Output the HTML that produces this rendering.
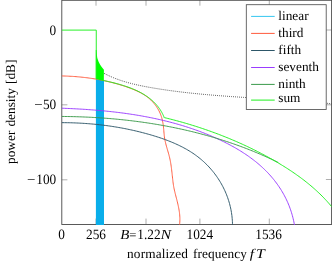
<!DOCTYPE html>
<html><head><meta charset="utf-8">
<style>
html,body{margin:0;padding:0;background:#fff;}
body{width:332px;height:266px;overflow:hidden;font-family:"Liberation Serif",serif;}
svg{display:block;}
text{font-family:"Liberation Serif",serif;font-size:13.3px;fill:#000;text-rendering:geometricPrecision;}
.i{font-style:italic;}
.g{stroke-width:1.2;}
.c{fill:none;stroke-width:0.95;stroke-linejoin:round;stroke-linecap:butt;}
</style></head><body>
<svg width="332" height="266" viewBox="0 0 332 266">
<rect x="0" y="0" width="332" height="266" fill="#fff"/>
<defs><clipPath id="cp"><rect x="61.8" y="0" width="269.8" height="224.9"/></clipPath></defs>
<g stroke="#9a9a9a" stroke-width="0.8" fill="none">
<path d="M96 224.5V218.6M146 224.5V218.6M199.9 224.5V218.6M269.3 224.5V218.6"/>
<path d="M96 0V5.7M146 0V5.7M199.9 0V5.7M269.3 0V5.7"/>
<path d="M61.8 104.8H67.4M61.8 179.8H67.4"/>
<path d="M331.6 30H325.9M331.6 104.8H325.9M331.6 179.5H325.9"/>
</g>
<rect x="61.8" y="0.3" width="269.8" height="224.2" fill="none" stroke="#484848" stroke-width="0.9"/>
<g clip-path="url(#cp)">
<polygon points="95.9,78.9 104.0,80.7 104.0,225 95.9,225" fill="#0aaeea"/>
<path class="c" stroke="#333" stroke-width="0.7" stroke-dasharray="0.8 1.2" d="M104.03 73.32 L105.38 74.02 L106.75 74.71 L108.12 75.37 L109.49 76.01 L110.88 76.63 L112.27 77.22 L113.67 77.80 L115.07 78.36 L116.48 78.90 L117.90 79.42 L119.32 79.93 L120.75 80.42 L122.18 80.89 L123.62 81.34 L125.06 81.78 L126.51 82.21 L127.96 82.62 L129.42 83.02 L130.88 83.40 L132.34 83.77 L133.81 84.13 L135.28 84.48 L136.76 84.82 L138.24 85.14 L139.72 85.46 L141.20 85.77 L142.69 86.07 L144.17 86.36 L145.66 86.65 L147.15 86.92 L148.65 87.20 L150.14 87.46 L151.63 87.72 L153.13 87.98 L154.63 88.23 L156.12 88.47 L157.62 88.72 L159.12 88.95 L160.62 89.19 L162.12 89.42 L163.62 89.64 L165.12 89.87 L166.62 90.08 L168.12 90.30 L169.62 90.51 L171.13 90.71 L172.63 90.92 L174.14 91.12 L175.64 91.31 L177.15 91.50 L178.65 91.69 L180.16 91.88 L181.67 92.06 L183.17 92.24 L184.68 92.41 L186.19 92.58 L187.70 92.75 L189.21 92.92 L190.72 93.08 L192.23 93.24 L193.74 93.40 L195.25 93.55 L196.76 93.71 L198.27 93.85 L199.78 94.00 L201.30 94.14 L202.81 94.29 L204.32 94.43 L205.84 94.56 L207.35 94.70 L208.86 94.83 L210.38 94.96 L211.89 95.09 L213.41 95.21 L214.92 95.34 L216.44 95.46 L217.96 95.58 L219.47 95.70 L220.99 95.81 L222.50 95.93 L224.02 96.04 L225.54 96.15 L227.05 96.26 L228.57 96.37 L230.09 96.48 L231.61 96.58 L233.12 96.69 L234.64 96.79 L236.16 96.89 L237.68 96.99 L239.19 97.10 L240.71 97.19 L242.23 97.29 L243.75 97.39 L245.27 97.49 L246.78 97.58 L248.30 97.68 L249.82 97.77 L251.34 97.87 L252.86 97.96 L254.38 98.06 L255.89 98.15 L257.41 98.24 L258.93 98.33 L260.45 98.43 L261.96 98.52 L263.48 98.61 L265.00 98.70 L266.52 98.80 L268.03 98.89 L269.55 98.98 L271.07 99.08 L272.59 99.17 L274.10 99.26 L275.62 99.36 L277.13 99.45 L278.65 99.55 L280.17 99.64 L281.68 99.74 L283.20 99.84 L284.71 99.94 L286.23 100.04 L287.74 100.14 L289.26 100.24 L290.77 100.34 L292.28 100.44 L293.80 100.55 L295.31 100.65 L296.82 100.76 L298.33 100.87 L299.85 100.98 L301.36 101.09 L302.87 101.21 L304.38 101.32 L305.89 101.44 L307.40 101.55 L308.91 101.67 L310.42 101.80 L311.93 101.92 L313.43 102.05 L314.94 102.17 L316.45 102.30 L317.95 102.44 L319.46 102.57 L320.97 102.71 L322.47 102.85 L323.97 102.99 L325.48 103.13 L326.98 103.28 L328.48 103.43 L329.99 103.58 L331.49 103.73"/>
<path class="c" stroke="#ff5a3c" d="M61.48 75.93 L62.70 75.96 L63.91 76.00 L65.13 76.04 L66.34 76.08 L67.56 76.13 L68.77 76.19 L69.98 76.25 L71.20 76.32 L72.41 76.39 L73.62 76.47 L74.83 76.56 L76.03 76.65 L77.24 76.75 L78.45 76.85 L79.65 76.96 L80.86 77.08 L82.06 77.20 L83.26 77.33 L84.46 77.47 L85.66 77.61 L86.86 77.76 L88.06 77.92 L89.25 78.08 L90.45 78.25 L91.64 78.42 L92.83 78.60 L94.03 78.79 L95.22 78.99 L96.41 79.19 L97.59 79.40 L98.78 79.61 L99.97 79.84 L101.15 80.07 L102.33 80.30 L103.52 80.55 L104.70 80.80 L105.88 81.06 L107.05 81.32 L108.23 81.60 L109.41 81.88 L110.58 82.16 L111.75 82.46 L112.92 82.76 L114.09 83.07 L115.26 83.39 L116.43 83.71 L117.60 84.05 L118.76 84.39 L119.92 84.73 L121.08 85.09 L122.24 85.45 L123.40 85.83 L124.56 86.21 L125.72 86.59 L126.87 86.99 L128.02 87.39 L129.17 87.81 L130.32 88.23 L131.46 88.66 L132.60 89.11 L133.73 89.57 L134.85 90.04 L135.97 90.52 L137.08 91.03 L138.17 91.55 L139.26 92.08 L140.33 92.64 L141.39 93.21 L142.44 93.81 L143.47 94.42 L144.49 95.06 L145.49 95.72 L146.47 96.41 L147.43 97.12 L148.37 97.86 L149.30 98.63 L150.20 99.42 L151.08 100.24 L151.93 101.09 L152.77 101.97 L153.57 102.87 L154.35 103.79 L155.10 104.74 L155.83 105.71 L156.52 106.71 L157.19 107.72 L157.83 108.76 L158.43 109.81 L159.00 110.88 L159.54 111.97 L160.04 113.07 L160.50 114.19 L160.93 115.32 L161.33 116.47 L161.69 117.62 L162.01 118.79 L162.30 119.97 L162.57 121.15 L162.80 122.34 L163.01 123.54 L163.18 124.74 L163.34 125.94 L163.48 127.15 L163.60 128.35 L163.71 129.56 L163.82 130.77 L163.92 131.98 L164.03 133.18 L164.15 134.39 L164.28 135.59 L164.42 136.79 L164.59 137.98 L164.78 139.17 L165.00 140.35 L165.25 141.53 L165.52 142.70 L165.81 143.87 L166.11 145.04 L166.43 146.20 L166.76 147.37 L167.10 148.53 L167.44 149.69 L167.78 150.85 L168.12 152.01 L168.45 153.17 L168.78 154.33 L169.09 155.50 L169.39 156.67 L169.67 157.85 L169.93 159.03 L170.17 160.21 L170.40 161.39 L170.61 162.58 L170.81 163.78 L171.00 164.97 L171.17 166.17 L171.33 167.37 L171.49 168.57 L171.64 169.77 L171.78 170.97 L171.92 172.17 L172.05 173.38 L172.18 174.58 L172.31 175.78 L172.44 176.98 L172.57 178.19 L172.70 179.39 L172.84 180.58 L172.98 181.78 L173.13 182.98 L173.30 184.17 L173.48 185.36 L173.68 186.54 L173.90 187.72 L174.13 188.90 L174.39 190.08 L174.66 191.25 L174.94 192.42 L175.23 193.59 L175.52 194.77 L175.82 195.94 L176.13 197.11 L176.43 198.28 L176.73 199.45 L177.03 200.63 L177.32 201.80 L177.60 202.98 L177.88 204.15 L178.15 205.33 L178.40 206.52 L178.64 207.70 L178.87 208.89 L179.07 210.08 L179.26 211.27 L179.43 212.46 L179.57 213.66 L179.69 214.86 L179.79 216.06 L179.85 217.27 L179.89 218.48 L179.89 219.70 L179.86 220.92 L179.80 222.15 L179.70 223.38 L179.56 224.61"/>
<path class="c" stroke="#2d5668" d="M61.49 122.65 L63.01 122.66 L64.54 122.67 L66.06 122.69 L67.59 122.71 L69.11 122.74 L70.63 122.78 L72.15 122.82 L73.68 122.87 L75.19 122.93 L76.71 122.99 L78.23 123.06 L79.75 123.13 L81.26 123.22 L82.78 123.31 L84.29 123.40 L85.80 123.50 L87.31 123.61 L88.82 123.73 L90.33 123.85 L91.84 123.98 L93.35 124.12 L94.85 124.26 L96.36 124.41 L97.86 124.56 L99.36 124.73 L100.87 124.90 L102.37 125.08 L103.87 125.26 L105.36 125.45 L106.86 125.65 L108.36 125.86 L109.85 126.07 L111.35 126.29 L112.84 126.52 L114.33 126.75 L115.82 126.99 L117.31 127.24 L118.80 127.50 L120.29 127.76 L121.78 128.03 L123.26 128.31 L124.75 128.60 L126.23 128.89 L127.71 129.19 L129.19 129.50 L130.67 129.82 L132.15 130.14 L133.63 130.47 L135.11 130.81 L136.58 131.16 L138.05 131.51 L139.53 131.87 L141.00 132.24 L142.47 132.62 L143.94 133.00 L145.41 133.40 L146.88 133.80 L148.34 134.21 L149.81 134.62 L151.27 135.05 L152.73 135.48 L154.19 135.93 L155.65 136.38 L157.11 136.84 L158.56 137.31 L160.01 137.79 L161.46 138.28 L162.90 138.78 L164.34 139.29 L165.77 139.82 L167.20 140.35 L168.62 140.90 L170.04 141.46 L171.45 142.04 L172.86 142.62 L174.26 143.23 L175.65 143.84 L177.03 144.47 L178.41 145.11 L179.78 145.77 L181.14 146.45 L182.50 147.14 L183.84 147.85 L185.17 148.57 L186.50 149.31 L187.81 150.07 L189.11 150.84 L190.40 151.63 L191.67 152.45 L192.94 153.28 L194.19 154.13 L195.42 155.00 L196.64 155.89 L197.84 156.80 L199.03 157.73 L200.20 158.68 L201.36 159.65 L202.50 160.63 L203.62 161.64 L204.72 162.66 L205.81 163.71 L206.88 164.77 L207.93 165.84 L208.97 166.94 L209.98 168.05 L210.98 169.18 L211.96 170.33 L212.92 171.49 L213.86 172.67 L214.78 173.86 L215.68 175.07 L216.56 176.29 L217.42 177.53 L218.26 178.78 L219.07 180.05 L219.87 181.33 L220.64 182.62 L221.40 183.93 L222.13 185.25 L222.83 186.58 L223.52 187.93 L224.18 189.29 L224.82 190.66 L225.44 192.04 L226.03 193.44 L226.60 194.84 L227.14 196.26 L227.66 197.68 L228.15 199.12 L228.62 200.56 L229.07 202.02 L229.49 203.49 L229.88 204.96 L230.24 206.44 L230.58 207.94 L230.90 209.44 L231.18 210.95 L231.44 212.46 L231.67 213.99 L231.88 215.52 L232.05 217.06 L232.20 218.60 L232.32 220.15 L232.41 221.71 L232.47 223.27 L232.50 224.84"/>
<path class="c" stroke="#9a3cff" d="M61.65 108.21 L63.15 108.26 L64.64 108.32 L66.14 108.38 L67.63 108.44 L69.13 108.51 L70.63 108.58 L72.13 108.65 L73.63 108.72 L75.13 108.80 L76.63 108.88 L78.13 108.96 L79.64 109.05 L81.14 109.13 L82.65 109.23 L84.15 109.32 L85.66 109.42 L87.16 109.52 L88.67 109.63 L90.17 109.74 L91.68 109.85 L93.19 109.96 L94.69 110.08 L96.20 110.21 L97.71 110.33 L99.22 110.46 L100.73 110.60 L102.23 110.74 L103.74 110.88 L105.25 111.02 L106.76 111.18 L108.26 111.33 L109.77 111.49 L111.28 111.65 L112.79 111.82 L114.29 111.99 L115.80 112.17 L117.31 112.35 L118.81 112.53 L120.32 112.72 L121.82 112.92 L123.33 113.12 L124.83 113.32 L126.33 113.53 L127.83 113.75 L129.34 113.96 L130.84 114.19 L132.34 114.42 L133.84 114.65 L135.33 114.89 L136.83 115.14 L138.33 115.39 L139.82 115.64 L141.32 115.90 L142.81 116.17 L144.31 116.44 L145.80 116.72 L147.29 117.00 L148.78 117.29 L150.26 117.58 L151.75 117.88 L153.23 118.19 L154.72 118.50 L156.20 118.82 L157.68 119.15 L159.16 119.48 L160.64 119.81 L162.11 120.16 L163.59 120.51 L165.06 120.86 L166.53 121.22 L168.00 121.59 L169.47 121.97 L170.93 122.35 L172.40 122.74 L173.86 123.13 L175.32 123.53 L176.78 123.94 L178.23 124.36 L179.69 124.78 L181.14 125.21 L182.59 125.65 L184.03 126.09 L185.48 126.54 L186.92 127.00 L188.36 127.46 L189.80 127.94 L191.24 128.42 L192.67 128.90 L194.10 129.40 L195.53 129.90 L196.95 130.41 L198.38 130.93 L199.80 131.46 L201.21 131.99 L202.63 132.53 L204.04 133.08 L205.45 133.64 L206.86 134.20 L208.26 134.78 L209.66 135.36 L211.06 135.95 L212.45 136.55 L213.84 137.15 L215.23 137.77 L216.62 138.39 L218.00 139.02 L219.38 139.66 L220.75 140.31 L222.12 140.97 L223.49 141.63 L224.86 142.31 L226.21 143.00 L227.57 143.69 L228.92 144.39 L230.26 145.11 L231.60 145.83 L232.93 146.56 L234.26 147.31 L235.58 148.06 L236.89 148.82 L238.20 149.60 L239.50 150.38 L240.79 151.18 L242.07 151.98 L243.34 152.80 L244.61 153.63 L245.87 154.47 L247.12 155.32 L248.36 156.18 L249.59 157.05 L250.81 157.94 L252.02 158.84 L253.22 159.75 L254.41 160.67 L255.58 161.60 L256.75 162.55 L257.91 163.51 L259.05 164.48 L260.18 165.47 L261.30 166.46 L262.41 167.48 L263.50 168.50 L264.59 169.54 L265.65 170.59 L266.71 171.65 L267.75 172.73 L268.77 173.82 L269.78 174.93 L270.78 176.05 L271.76 177.18 L272.73 178.33 L273.68 179.49 L274.61 180.67 L275.53 181.85 L276.43 183.05 L277.32 184.27 L278.18 185.49 L279.03 186.73 L279.87 187.99 L280.68 189.25 L281.48 190.53 L282.26 191.83 L283.02 193.13 L283.76 194.45 L284.48 195.78 L285.18 197.13 L285.86 198.48 L286.52 199.85 L287.17 201.23 L287.79 202.63 L288.39 204.03 L288.97 205.45 L289.52 206.88 L290.06 208.33 L290.57 209.78 L291.07 211.25 L291.53 212.73 L291.98 214.23 L292.40 215.73 L292.80 217.25 L293.18 218.78 L293.53 220.32 L293.86 221.87 L294.16 223.43 L294.44 225.01"/>
<path class="c" stroke="#3a9a4a" d="M61.53 116.45 L63.04 116.46 L64.54 116.48 L66.05 116.50 L67.55 116.52 L69.06 116.55 L70.57 116.57 L72.07 116.61 L73.58 116.64 L75.08 116.68 L76.59 116.72 L78.10 116.77 L79.61 116.82 L81.11 116.87 L82.62 116.93 L84.13 116.99 L85.64 117.05 L87.14 117.12 L88.65 117.19 L90.16 117.26 L91.67 117.34 L93.17 117.42 L94.68 117.51 L96.19 117.60 L97.70 117.69 L99.21 117.78 L100.71 117.88 L102.22 117.99 L103.73 118.10 L105.23 118.21 L106.74 118.32 L108.25 118.44 L109.75 118.56 L111.26 118.69 L112.77 118.82 L114.27 118.95 L115.78 119.09 L117.28 119.23 L118.79 119.38 L120.29 119.53 L121.80 119.68 L123.30 119.84 L124.80 120.00 L126.31 120.16 L127.81 120.33 L129.31 120.50 L130.81 120.68 L132.31 120.86 L133.81 121.05 L135.31 121.24 L136.81 121.43 L138.31 121.63 L139.81 121.83 L141.31 122.03 L142.81 122.24 L144.30 122.46 L145.80 122.67 L147.29 122.90 L148.79 123.12 L150.28 123.35 L151.78 123.59 L153.27 123.83 L154.76 124.07 L156.25 124.32 L157.74 124.57 L159.23 124.82 L160.72 125.08 L162.21 125.35 L163.69 125.62 L165.18 125.89 L166.67 126.17 L168.15 126.45 L169.63 126.74 L171.12 127.03 L172.60 127.32 L174.08 127.62 L175.56 127.93 L177.04 128.23 L178.51 128.55 L179.99 128.87 L181.46 129.19 L182.94 129.51 L184.41 129.84 L185.88 130.18 L187.35 130.52 L188.82 130.87 L190.29 131.21 L191.76 131.57 L193.22 131.93 L194.69 132.29 L196.15 132.66 L197.61 133.03 L199.08 133.41 L200.53 133.79 L201.99 134.18 L203.45 134.57 L204.91 134.97 L206.36 135.37 L207.81 135.77 L209.26 136.18 L210.71 136.60 L212.16 137.02 L213.61 137.44 L215.05 137.87 L216.50 138.31 L217.94 138.75 L219.38 139.19 L220.82 139.64 L222.26 140.10 L223.69 140.56 L225.13 141.02 L226.56 141.49 L227.99 141.96 L229.42 142.44 L230.85 142.93 L232.28 143.42 L233.70 143.91 L235.12 144.41 L236.54 144.92 L237.96 145.43 L239.38 145.94 L240.80 146.46 L242.21 146.99 L243.62 147.52 L245.03 148.05 L246.44 148.59 L247.85 149.14 L249.25 149.69 L250.65 150.25 L252.05 150.81 L253.45 151.37 L254.85 151.95 L256.24 152.52 L257.63 153.11 L259.03 153.69 L260.41 154.29 L261.80 154.89 L263.18 155.49 L264.57 156.10 L265.95 156.71 L267.32 157.33 L268.70 157.96 L270.07 158.59 L271.44 159.23 L272.81 159.87 L274.18 160.52 L275.54 161.17 L276.90 161.83 L278.26 162.49"/>
<polygon points="95.8,50 96.6,50 96.9,55 97.3,58 98.5,61.5 100,64.5 101.5,66.8 102.7,68.3 103.9,69.7 103.85,80.9 95.8,79.1" fill="#00ff00"/>
<path class="c g" stroke="#1df01d" d="M61.5 30.1H96.25V79"/>
<path class="c g" stroke="#1df01d" d="M103.91 80.59 L104.81 80.78 L105.72 80.98 L106.63 81.18 L107.54 81.38 L108.46 81.59 L109.38 81.80 L110.31 82.02 L111.24 82.24 L112.17 82.46 L113.10 82.69 L114.04 82.92 L114.97 83.16 L115.91 83.40 L116.85 83.65 L117.79 83.91 L118.73 84.17 L119.67 84.43 L120.61 84.70 L121.55 84.98 L122.49 85.26 L123.42 85.55 L124.36 85.85 L125.29 86.15 L126.23 86.46 L127.16 86.78 L128.08 87.11 L129.01 87.44 L129.93 87.78 L130.84 88.13 L131.75 88.49 L132.66 88.86 L133.57 89.23 L134.47 89.62 L135.36 90.01 L136.25 90.41 L137.13 90.82 L138.00 91.24 L138.87 91.67 L139.74 92.11 L140.59 92.56 L141.44 93.03 L142.28 93.50 L143.11 93.98 L143.94 94.47 L144.75 94.98 L145.56 95.49 L146.36 96.02 L147.15 96.56 L147.92 97.11 L148.69 97.67 L149.45 98.25 L150.19 98.83 L150.93 99.43 L151.65 100.04 L152.36 100.67 L153.06 101.31 L153.75 101.96 L154.43 102.63 L155.09 103.31 L155.74 104.00 L156.37 104.71 L156.99 105.43 L157.60 106.16 L158.19 106.91 L158.77 107.68 L159.33 108.46 L159.88 109.26 L160.41 110.07 L160.92 110.89 L161.42 111.74 L161.90 112.59 L162.37 113.47 L162.82 114.36 L163.24 115.27 L163.66 116.19 L164.05 117.13 L164.42 118.09"/>
<path class="c g" stroke="#1df01d" d="M164.81 117.72 L166.28 118.07 L167.74 118.43 L169.21 118.80 L170.67 119.17 L172.14 119.54 L173.60 119.92 L175.06 120.31 L176.52 120.70 L177.98 121.09 L179.44 121.50 L180.90 121.90 L182.36 122.31 L183.82 122.73 L185.27 123.15 L186.73 123.57 L188.18 124.00 L189.63 124.44 L191.09 124.88 L192.54 125.33 L193.99 125.78 L195.43 126.23 L196.88 126.70 L198.33 127.16 L199.77 127.63 L201.21 128.11 L202.65 128.59 L204.09 129.08 L205.53 129.57 L206.97 130.07 L208.41 130.57 L209.84 131.08 L211.27 131.59 L212.70 132.11 L214.13 132.63 L215.56 133.16 L216.98 133.69 L218.41 134.23 L219.83 134.78 L221.25 135.33 L222.66 135.88 L224.08 136.44 L225.49 137.01 L226.91 137.58 L228.32 138.15 L229.72 138.73 L231.13 139.32 L232.53 139.91 L233.93 140.51 L235.33 141.11 L236.73 141.71 L238.12 142.33 L239.52 142.95 L240.90 143.57 L242.29 144.20 L243.68 144.83 L245.06 145.47 L246.44 146.11 L247.82 146.76 L249.19 147.42 L250.56 148.08 L251.93 148.75 L253.30 149.42 L254.66 150.09 L256.02 150.78 L257.38 151.46 L258.74 152.16 L260.09 152.86 L261.44 153.56 L262.79 154.27 L264.13 154.98 L265.47 155.70 L266.81 156.43 L268.14 157.16 L269.47 157.90 L270.80 158.64 L272.13 159.39 L273.45 160.14 L274.77 160.90 L276.08 161.66 L277.39 162.43 L278.70 163.21 L280.01 163.99 L281.31 164.78 L282.60 165.57 L283.89 166.37 L285.18 167.18 L286.47 167.99 L287.74 168.81 L289.02 169.64 L290.28 170.47 L291.55 171.31 L292.81 172.16 L294.06 173.02 L295.30 173.88 L296.54 174.75 L297.78 175.63 L299.01 176.51 L300.23 177.41 L301.45 178.31 L302.66 179.22 L303.86 180.14 L305.05 181.07 L306.24 182.00 L307.42 182.95 L308.60 183.90 L309.77 184.86 L310.93 185.83 L312.08 186.81 L313.22 187.80 L314.36 188.80 L315.48 189.81 L316.60 190.83 L317.71 191.86 L318.81 192.90 L319.91 193.95 L320.99 195.01 L322.07 196.08 L323.13 197.16 L324.19 198.25 L325.23 199.35 L326.27 200.46 L327.30 201.58 L328.31 202.72 L329.32 203.86 L330.32 205.02 L331.30 206.19 L332.28 207.37"/>
</g>
<rect x="246.3" y="4.7" width="79.9" height="104.8" fill="#fff" stroke="#505050" stroke-width="0.85"/>
<g class="c" style="stroke-width:1">
<path stroke="#35c6f0" d="M251.1 16.4H274.7"/>
<path stroke="#ff5a3c" d="M251.1 33.4H274.7"/>
<path stroke="#2d5668" d="M251.1 50.5H274.7"/>
<path stroke="#9a3cff" d="M251.1 67.5H274.7"/>
<path stroke="#3a9a4a" d="M251.1 84.4H274.7"/>
<path stroke="#1df01d" d="M251.1 100.1H274.7"/>
</g>
<g style="opacity:0.999">
<text x="278.3" y="20.4">linear</text>
<text x="278.3" y="37.3">third</text>
<text x="278.3" y="54.3">fifth</text>
<text x="278.3" y="71.3">seventh</text>
<text x="278.3" y="88.2">ninth</text>
<text x="278.3" y="102.4">sum</text>
<text transform="translate(61.7,239.4) scale(1,1.07)" text-anchor="middle">0</text>
<text transform="translate(96,239.4) scale(1,1.07)" text-anchor="middle">256</text>
<text transform="translate(120.3,239.4) scale(1.12,1.04)" class="i">B</text>
<text transform="translate(132.7,239.4) scale(0.95,1)" text-anchor="middle">=</text>
<text transform="translate(137.3,239.4) scale(1,1.07)" text-anchor="start">1.22</text>
<text transform="translate(160.4,239.4) scale(1.2,1.04)" class="i">N</text>
<text transform="translate(199.8,239.4) scale(1,1.07)" text-anchor="middle">1024</text>
<text transform="translate(268.6,239.4) scale(1,1.07)" text-anchor="middle">1536</text>
<text transform="translate(56.2,34.5) scale(1,1.07)" text-anchor="end">0</text>
<text transform="translate(56.2,109.2) scale(1,1.07)" text-anchor="end">50</text>
<text transform="translate(56.2,184.2) scale(1,1.07)" text-anchor="end">100</text>
<text transform="translate(34.2,109.2) scale(1.12,1)">−</text>
<text transform="translate(27.0,184.2) scale(1.12,1)">−</text>
<text x="127.1" y="257.8" style="letter-spacing:0.12px">normalized</text>
<text x="192.9" y="257.8" style="letter-spacing:0.12px">frequency</text>
<text transform="translate(249.7,257.8) scale(1.16,1)" class="i">f</text>
<text transform="translate(256.0,257.8) scale(1.19,1)" class="i">T</text>
<text transform="translate(14.7,111.8) rotate(-90)" text-anchor="middle" style="word-spacing:0.8px">power density [dB]</text>
</g>
</svg>
</body></html>
